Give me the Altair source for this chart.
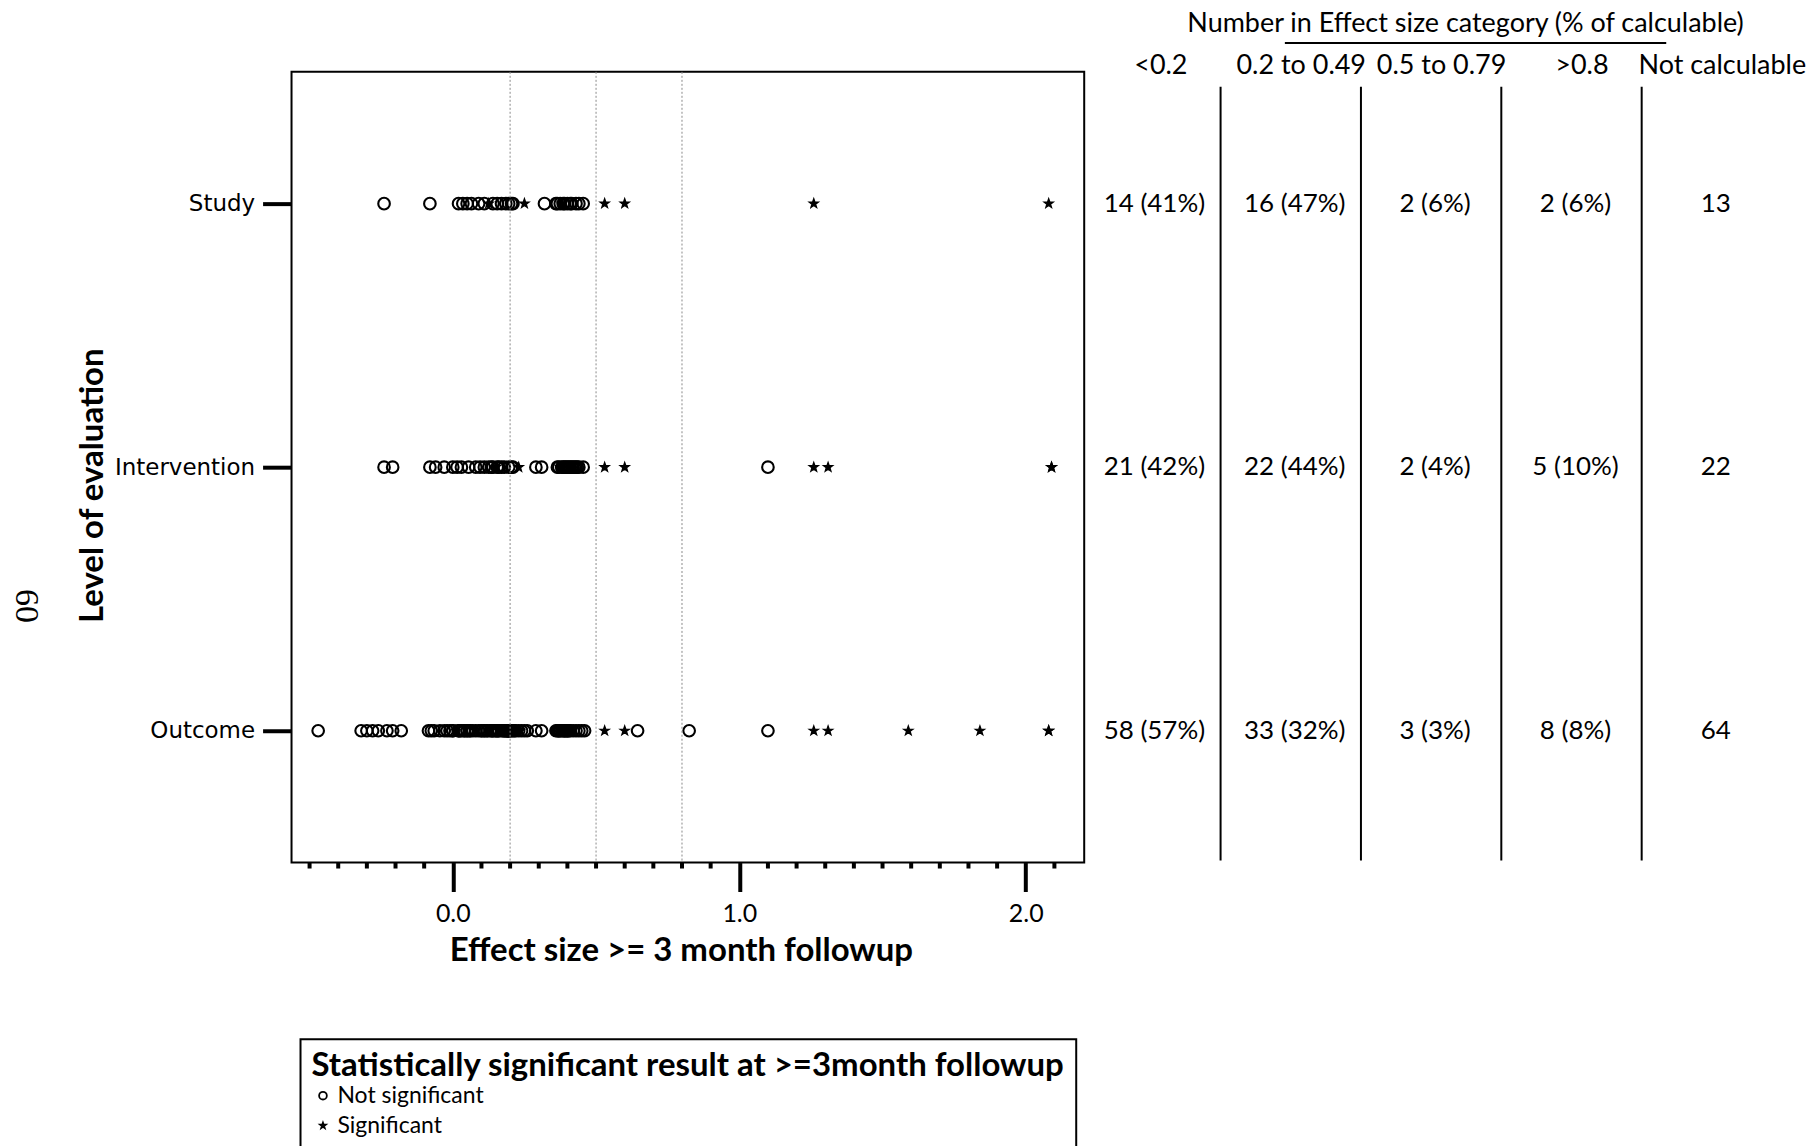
import altair as alt
import pandas as pd

# ---------------- data ----------------
levels = ["Study", "Intervention", "Outcome"]
sig_labels = ["Not significant", "Significant"]

study_ns = [-0.24, -0.08, 0.02, 0.035, 0.05, 0.065, 0.09, 0.11, 0.14, 0.155, 0.17, 0.185, 0.195,
            0.205, 0.21, 0.32, 0.36, 0.365, 0.375, 0.385, 0.39, 0.40, 0.41, 0.415, 0.43, 0.44, 0.455]
study_s = [0.125, 0.25, 0.38, 0.53, 0.60, 1.26, 2.08]

intervention_ns = [-0.24, -0.21, -0.08, -0.06, -0.03, 0.0, 0.015, 0.03, 0.055, 0.08, 0.095, 0.11,
                   0.125, 0.135, 0.14, 0.155, 0.16, 0.17, 0.18, 0.195,
                   0.205, 0.21, 0.29, 0.31, 0.365, 0.37, 0.38, 0.385, 0.39, 0.395, 0.40, 0.405,
                   0.41, 0.415, 0.42, 0.425, 0.43, 0.435, 0.44, 0.455, 1.10]
intervention_s = [0.15, 0.23, 0.375, 0.53, 0.60, 1.26, 1.31, 2.09, 2.09]

outcome_ns = [-0.47, -0.32, -0.30, -0.28, -0.26, -0.23, -0.21, -0.18, -0.085, -0.075, -0.065, -0.045,
              -0.03, -0.02, -0.01, 0.0, 0.0, 0.02, 0.02, 0.03, 0.04, 0.04, 0.05, 0.06, 0.06, 0.07,
              0.08, 0.09, 0.10, 0.10, 0.11, 0.12, 0.12, 0.13, 0.14, 0.14, 0.15, 0.15, 0.16, 0.16,
              0.17, 0.18, 0.18, 0.19, 0.19, 0.19, 0.05, 0.11, 0.135, 0.155, 0.175, 0.185, 0.195, 0.025,
              0.20, 0.205, 0.21, 0.215, 0.22, 0.23, 0.24, 0.25, 0.26, 0.29, 0.31,
              0.36, 0.365, 0.37, 0.37, 0.375, 0.38, 0.385, 0.39, 0.39, 0.395, 0.40, 0.40, 0.405,
              0.41, 0.42, 0.43, 0.44, 0.45, 0.46, 0.645, 0.825, 1.10]
outcome_s = [0.01, 0.08, 0.13, 0.17, 0.235, 0.38, 0.415, 0.53, 0.60, 1.26, 1.31, 1.59, 1.84, 2.08, 2.08]

ref_lines = [0.2, 0.5, 0.8]
major_ticks = [0.0, 1.0, 2.0]
minor_ticks = [-0.5, -0.4, -0.3, -0.2, -0.1, 0.1, 0.2, 0.3, 0.4, 0.5, 0.6, 0.7, 0.8, 0.9,
               1.1, 1.2, 1.3, 1.4, 1.5, 1.6, 1.7, 1.8, 1.9, 2.1]
x_domain = [-0.563, 2.204]

columns = ["<0.2", "0.2 to 0.49", "0.5 to 0.79", ">0.8", "Not calculable"]
study_counts = [14, 16, 2, 2]
study_pcts = [41, 47, 6, 6]
study_notcalc = 13
intervention_counts = [21, 22, 2, 5]
intervention_pcts = [42, 44, 4, 10]
intervention_notcalc = 22
outcome_counts = [58, 33, 3, 8]
outcome_pcts = [57, 32, 3, 8]
outcome_notcalc = 64

table_title = "Number in Effect size category (% of calculable)"
page_number = "60"

# ---------------- frames ----------------
rows_ns, rows_s = [], []
for lvl, ns, s in [("Study", study_ns, study_s),
                   ("Intervention", intervention_ns, intervention_s),
                   ("Outcome", outcome_ns, outcome_s)]:
    for v in ns:
        rows_ns.append({"level": lvl, "es": v, "sig": sig_labels[0]})
    for v in s:
        rows_s.append({"level": lvl, "es": v, "sig": sig_labels[1]})
points_ns = pd.DataFrame(rows_ns)
points_s = pd.DataFrame(rows_s)

trows = []
for lvl, cnt, pct, nc in [("Study", study_counts, study_pcts, study_notcalc),
                          ("Intervention", intervention_counts, intervention_pcts, intervention_notcalc),
                          ("Outcome", outcome_counts, outcome_pcts, outcome_notcalc)]:
    for c, n, p in zip(columns[:4], cnt, pct):
        trows.append({"level": lvl, "col": c, "label": f"{n} ({p}%)"})
    trows.append({"level": lvl, "col": columns[4], "label": str(nc)})
table_df = pd.DataFrame(trows)

# small five-point star (drawn inside the unit square, smaller than the circle)
STAR = ("M0,-0.75L0.176,-0.243L0.713,-0.232L0.285,0.093L0.441,0.607L0,0.3"
        "L-0.441,0.607L-0.285,0.093L-0.713,-0.232L-0.176,-0.243Z")

W, H = 794, 792
WT = 703
step_t = WT / 5

yscale = alt.Scale(domain=levels, type="point", padding=0.5)
xscale = alt.Scale(domain=x_domain, nice=False, zero=False)
shape_scale = alt.Scale(domain=sig_labels, range=["circle", STAR])

legend = alt.Legend(
    orient="none", legendX=9, legendY=969,
    title="Statistically significant result at >=3month followup", titleLimit=2000,
    titleFont="Lato", titleFontSize=33, titleFontWeight="bold", titleColor="black",
    titlePadding=1, labelFont="Lato", labelFontSize=23, labelColor="black", labelLimit=1000,
    strokeColor="black", padding=11, symbolSize=60, symbolStrokeWidth=1.8,
    symbolStrokeColor="black", rowPadding=6, labelOffset=3,
)

xaxis = alt.Axis(
    values=major_ticks, format=".1f", tickSize=29, tickWidth=4, tickColor="black",
    domain=False, grid=False, labelFont="Lato", labelFontSize=25, labelColor="black",
    labelPadding=10, title="Effect size >= 3 month followup", titleFont="Lato",
    titleFontSize=33, titleFontWeight="bold", titleColor="black",
    titleX=390, titleY=88, titleBaseline="middle")
yaxis = alt.Axis(
    tickSize=29, tickWidth=4, tickColor="black", domain=False, grid=False,
    labelFont="DejaVu Sans", labelFontSize=23, labelColor="black", labelPadding=8,
    title="Level of evaluation", titleFont="Lato", titleFontSize=33,
    titleFontWeight="bold", titleColor="black", titleAngle=270,
    titleX=-199, titleY=414, titleBaseline="middle")

circles = alt.Chart(points_ns).mark_point(
    filled=False, strokeWidth=2.1, color="black", opacity=1, size=135).encode(
    x=alt.X("es:Q", scale=xscale, axis=xaxis),
    y=alt.Y("level:N", scale=yscale, axis=yaxis),
    shape=alt.Shape("sig:N", scale=shape_scale, legend=legend),
)

stars = alt.Chart(points_s).mark_point(
    filled=True, stroke="black", strokeWidth=1.3, color="black", opacity=1, size=165).encode(
    x=alt.X("es:Q", scale=xscale),
    y=alt.Y("level:N", scale=yscale),
    shape=alt.Shape("sig:N", scale=shape_scale, legend=legend),
)

refs = alt.Chart(pd.DataFrame({"v": ref_lines})).mark_rule(
    color="#8a8a8a", strokeDash=[2, 2], strokeWidth=1).encode(x=alt.X("v:Q", scale=xscale))

minor = alt.Chart(pd.DataFrame({"v": minor_ticks})).mark_rule(
    color="black", strokeWidth=4).encode(
    x=alt.X("v:Q", scale=xscale), y=alt.value(H), y2=alt.value(H + 6))

pnum = alt.Chart(pd.DataFrame({"t": [page_number]})).mark_text(
    font="Liberation Serif", fontSize=34, angle=90, align="center", baseline="middle",
    color="black").encode(text="t:N", x=alt.value(-266), y=alt.value(535))

scatter = alt.layer(circles, refs, minor, stars, pnum).properties(width=W, height=H)

# ---------------- table ----------------
tscale = alt.Scale(domain=columns, type="point", padding=0.5)
tx = alt.X("col:N", sort=columns, scale=tscale,
           axis=alt.Axis(orient="top", ticks=False, tickSize=0, domain=False, labelAngle=0,
                         labelAlign="center", labelBaseline="bottom",
                         labelFont="Lato", labelFontSize=27, labelColor="black",
                         labelPadding=0, offset=-8, labelOffset=6, title=None))
ty = alt.Y("level:N", scale=yscale, axis=None)

ttext = alt.Chart(table_df).mark_text(font="Lato", fontSize=26, color="black").encode(
    x=tx, y=ty, text="label:N")

vlines = alt.Chart(pd.DataFrame({"col": columns[1:]})).mark_rule(
    color="black", strokeWidth=2, xOffset=-(step_t / 2 + 4)).encode(
    x=alt.X("col:N", sort=columns, scale=tscale),
    y=alt.value(15), y2=alt.value(790))

ttitle = alt.Chart(pd.DataFrame({"t": [table_title]})).mark_text(
    font="Lato", fontSize=27, color="black", baseline="middle").encode(
    text="t:N", x=alt.value(382), y=alt.value(-48))

uline = alt.Chart(pd.DataFrame({"t": [table_title]})).mark_rule(
    color="black", strokeWidth=2).encode(x=alt.value(201), x2=alt.value(583), y=alt.value(-29))

table = alt.layer(vlines, ttext, ttitle, uline).properties(
    width=WT, height=H, view=alt.ViewBackground(stroke="transparent"))

chart = alt.hconcat(scatter, table, spacing=0, bounds="flush").resolve_legend(
    shape="independent"
).properties(
    padding={"left": 0, "top": 0, "right": 0, "bottom": 0}
).configure_view(stroke="black", strokeWidth=2).configure_legend(strokeWidth=2)

chart.save("out.html", embed_options={"renderer": "svg", "actions": False})
